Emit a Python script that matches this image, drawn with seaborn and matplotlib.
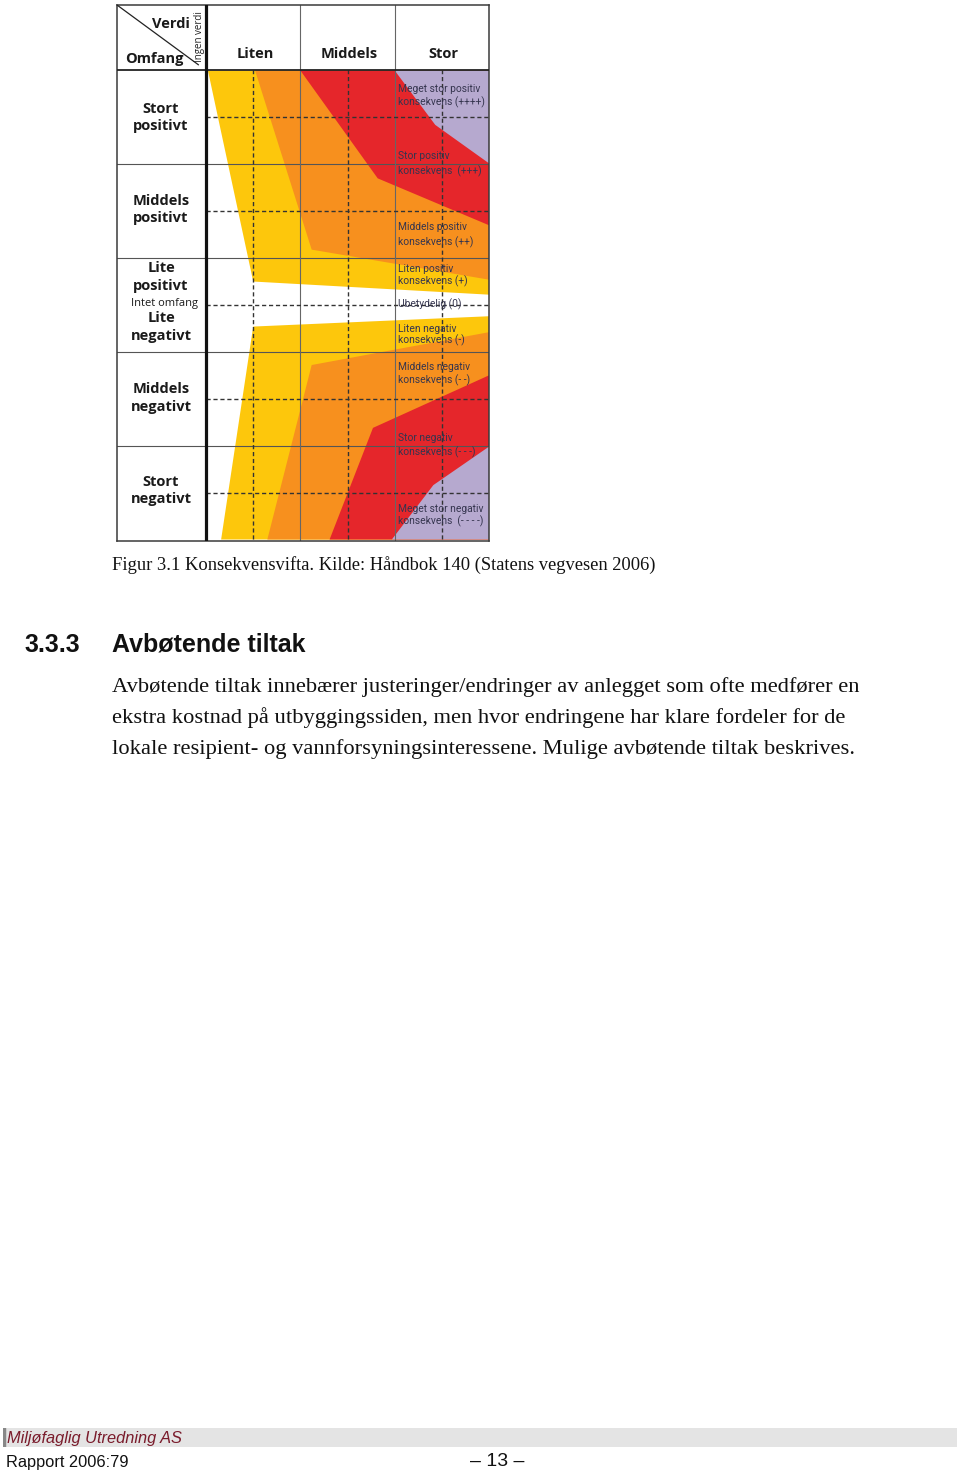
import matplotlib
matplotlib.use("Agg")
import matplotlib.pyplot as plt
import seaborn as sns

# Konsekvensvifta: verdi (x) mot omfang (y)
verdi_labels = ['Liten', 'Middels', 'Stor']
verdi_pos = [0.5, 1.5, 2.5]

omfang_labels = ['Stort\npositivt', 'Middels\npositivt', 'Lite\npositivt',
                 'Lite\nnegativt', 'Middels\nnegativt', 'Stort\nnegativt']
omfang_pos = [2.0, 1.02, 0.30, -0.235, -0.99, -1.98]

# fan regions (x = verdi 0..3, y = omfang -2.5..2.5)
gul_pos_x = [0.02, 0.50, 3.00, 3.00]
gul_pos_y = [2.50, 0.25, 0.11, 2.50]
gul_neg_x = [0.50, 3.00, 3.00, 0.16]
gul_neg_y = [-0.23, -0.12, -2.50, -2.50]

oransje_pos_x = [0.52, 1.12, 3.00, 3.00]
oransje_pos_y = [2.50, 0.59, 0.27, 2.50]
oransje_neg_x = [1.12, 3.00, 3.00, 0.65]
oransje_neg_y = [-0.64, -0.29, -2.50, -2.50]

rod_pos_x = [1.00, 1.82, 3.00, 3.00]
rod_pos_y = [2.50, 1.35, 0.85, 2.50]
rod_neg_x = [1.77, 3.00, 3.00, 1.31]
rod_neg_y = [-1.31, -0.75, -2.50, -2.50]

lilla_pos_x = [2.00, 2.43, 3.00, 3.00]
lilla_pos_y = [2.50, 1.92, 1.51, 2.50]
lilla_neg_x = [2.41, 3.00, 3.00, 1.97]
lilla_neg_y = [-1.92, -1.51, -2.50, -2.50]

konsekvens_tekst = ['Meget stor positiv', 'konsekvens (++++)',
                    'Stor positiv', 'konsekvens  (+++)',
                    'Middels positiv', 'konsekvens (++)',
                    'Liten positiv', 'konsekvens (+)',
                    'Ubetydelig (0)',
                    'Liten negativ', 'konsekvens (-)',
                    'Middels negativ', 'konsekvens (- -)',
                    'Stor negativ', 'konsekvens (- - -)',
                    'Meget stor negativ', 'konsekvens  (- - - -)']
konsekvens_y = [2.30, 2.164, 1.589, 1.43, 0.83, 0.67, 0.384, 0.256, 0.01,
                -0.256, -0.373, -0.661, -0.80, -1.418, -1.567, -2.175, -2.303]

caption = 'Figur 3.1 Konsekvensvifta. Kilde: Håndbok 140 (Statens vegvesen 2006)'
heading_num = '3.3.3'
heading = 'Avbøtende tiltak'
body_lines = ['Avbøtende tiltak innebærer justeringer/endringer av anlegget som ofte medfører en',
              'ekstra kostnad på utbyggingssiden, men hvor endringene har klare fordeler for de',
              'lokale resipient- og vannforsyningsinteressene. Mulige avbøtende tiltak beskrives.']
footer_firm = 'Miljøfaglig Utredning AS'
footer_report = 'Rapport 2006:79'
page_no = '– 13 –'

sns.set_theme(style='white')
plt.rcParams['font.family'] = ['Open Sans', 'DejaVu Sans']

W, H = 960, 1475
fig = plt.figure(figsize=(W / 100, H / 100), dpi=100)
fig.patch.set_facecolor('white')


def ftext(px, py, s, **kw):
    # place text in page pixel coords
    fig.text(px / W, 1 - py / H, s, **kw)


# chart box 117..489 x 5..541 px
ax = fig.add_axes([117 / W, 1 - 541 / H, 372 / W, 536 / H])
ax.set_xlim(-0.944, 3.0)
ax.set_ylim(-2.516, 3.198)
ax.set_xticks([])
ax.set_yticks([])
for sp in ax.spines.values():
    sp.set_visible(True)
    sp.set_color('#3a3a3a')
    sp.set_linewidth(1.1)

colors = {'gul': '#fdc70c', 'oransje': '#f7901e', 'rod': '#e5262b', 'lilla': '#b6a9cf'}
ax.fill(gul_pos_x, gul_pos_y, color=colors['gul'], lw=0, zorder=1)
ax.fill(gul_neg_x, gul_neg_y, color=colors['gul'], lw=0, zorder=1)
ax.fill(oransje_pos_x, oransje_pos_y, color=colors['oransje'], lw=0, zorder=1)
ax.fill(oransje_neg_x, oransje_neg_y, color=colors['oransje'], lw=0, zorder=1)
ax.fill(rod_pos_x, rod_pos_y, color=colors['rod'], lw=0, zorder=1)
ax.fill(rod_neg_x, rod_neg_y, color=colors['rod'], lw=0, zorder=1)
ax.fill(lilla_pos_x, lilla_pos_y, color=colors['lilla'], lw=0, zorder=1)
ax.fill(lilla_neg_x, lilla_neg_y, color=colors['lilla'], lw=0, zorder=1)

# grid
for y in [1.5, 0.5, -0.5, -1.5]:
    ax.axhline(y, color='#555555', lw=0.8, zorder=2)
for x in [1, 2]:
    ax.axvline(x, color='#666666', lw=0.8, zorder=2)
for x in verdi_pos:
    ax.plot([x, x], [-2.5, 2.5], color='#333333', lw=1.0, ls=(0, (3, 2)), zorder=2)
for y in [2, 1, 0, -1, -2]:
    ax.plot([0, 3], [y, y], color='#333333', lw=1.0, ls=(0, (3, 2)), zorder=2)
ax.axhline(2.5, color='#222222', lw=1.3, zorder=3)
ax.axvline(0, color='#111111', lw=2.3, zorder=3)
ax.plot([-0.944, -0.08], [3.198, 2.56], color='#222222', lw=0.9, zorder=3)

# header
ax.text(-0.371, 2.995, 'Verdi', ha='center', va='center', fontsize=10.5,
        fontweight='bold', color='#1a1a1a', zorder=4)
ax.text(-0.551, 2.625, 'Omfang', ha='center', va='center', fontsize=10.5,
        fontweight='bold', color='#1a1a1a', zorder=4)
ax.text(-0.074, 2.857, 'Ingen verdi', ha='center', va='center', fontsize=7,
        rotation=90, color='#222222', zorder=4)
for lab, x in zip(verdi_labels, verdi_pos):
    ax.text(x + 0.02, 2.677, lab, ha='center', va='center', fontsize=10.5,
            fontweight='bold', color='#1a1a1a', zorder=4)

# omfang labels
for lab, y in zip(omfang_labels, omfang_pos):
    ax.text(-0.477, y, lab, ha='center', va='center', fontsize=10.5,
            fontweight='bold', color='#1a1a1a', linespacing=1.32, zorder=4)
ax.text(-0.445, 0.02, 'Intet omfang', ha='center', va='center', fontsize=8,
        color='#1a1a1a', zorder=4)

# konsekvens labels in the Stor column
for lab, y in zip(konsekvens_tekst, konsekvens_y):
    ax.text(2.03, y, lab, ha='left', va='center', fontsize=7.4,
            color='#35354f', family=['Roboto', 'DejaVu Sans'], zorder=4)

# page text
ftext(112, 565, caption, ha='left', va='center', fontsize=13.3,
      family=['Liberation Serif'], color='#111111')
ftext(24, 645, heading_num, ha='left', va='center', fontsize=18,
      fontweight='bold', family=['Liberation Sans'], color='#111111')
ftext(112, 645, heading, ha='left', va='center', fontsize=18,
      fontweight='bold', family=['Liberation Sans'], color='#111111')
for i, line in enumerate(body_lines):
    ftext(112, 687 + 31 * i, line, ha='left', va='center', fontsize=16.2,
          family=['Liberation Serif'], color='#111111')

# footer band
band = fig.add_axes([3 / W, 1 - 1447 / H, 954 / W, 19 / H])
band.set_facecolor('#e4e4e4')
band.set_xticks([])
band.set_yticks([])
for sp in band.spines.values():
    sp.set_visible(False)
band.axvline(0.001, color='#888888', lw=2.5)
ftext(7, 1438, footer_firm, ha='left', va='center', fontsize=11.8,
      style='italic', family=['Liberation Sans'], color='#7a1b2b')
ftext(6, 1463, footer_report, ha='left', va='center', fontsize=11.8,
      family=['Liberation Sans'], color='#111111')
ftext(497, 1461, page_no, ha='center', va='center', fontsize=14,
      family=['Liberation Sans'], color='#111111')

fig.savefig('out.png', dpi=100, facecolor='white')
